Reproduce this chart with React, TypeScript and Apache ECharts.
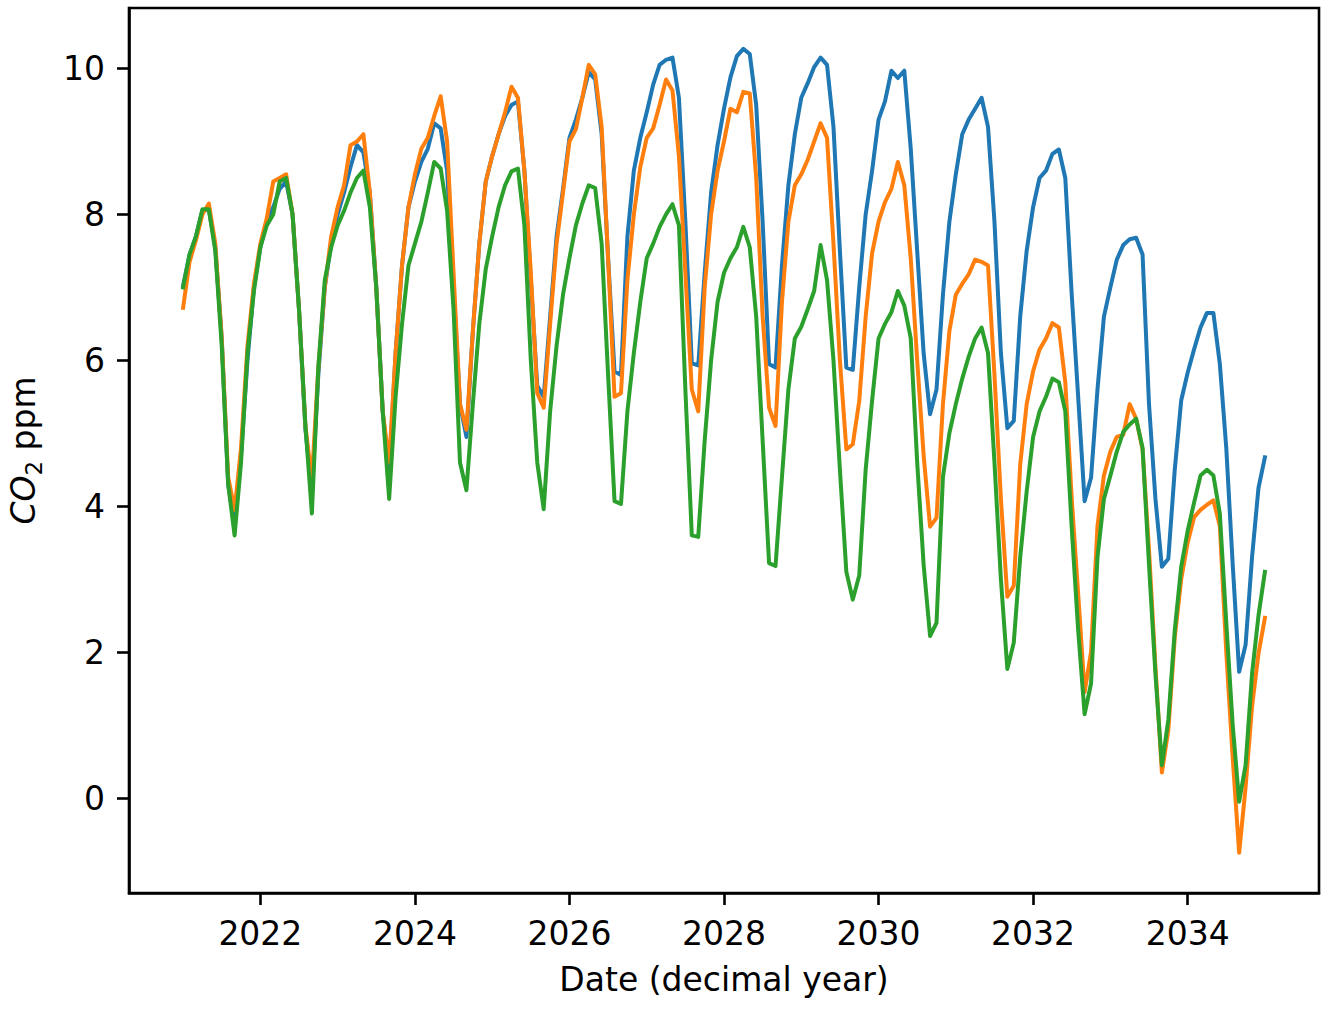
import React, { useEffect, useRef } from "react";
import * as echarts from "echarts";

// Monthly samples, Jan 2021 .. Jan 2035 (169 points)
const START_YEAR = 2021;

const seriesBlue: number[] = [
  7.02, 7.45, 7.7, 8.05, 8.07, 7.55, 6.3, 4.3, 3.75, 4.7, 6.0, 7.0, // 2021
  7.55, 7.9, 8.1, 8.35, 8.45, 8.0, 6.7, 5.05, 4.2, 5.8, 7.0, 7.6, // 2022
  8.0, 8.3, 8.65, 8.95, 8.85, 8.3, 7.0, 5.3, 4.45, 6.1, 7.3, 8.1, // 2023
  8.45, 8.72, 8.9, 9.25, 9.18, 8.6, 7.0, 5.4, 4.95, 6.4, 7.6, 8.45, // 2024
  8.8, 9.1, 9.35, 9.5, 9.55, 8.6, 7.1, 5.65, 5.5, 6.6, 7.7, 8.35, // 2025
  9.05, 9.3, 9.6, 9.95, 9.85, 9.1, 7.4, 5.85, 5.8, 7.7, 8.6, 9.05, // 2026
  9.4, 9.78, 10.05, 10.12, 10.15, 9.6, 7.9, 5.96, 5.93, 7.2, 8.3, 8.95, // 2027
  9.45, 9.88, 10.17, 10.27, 10.2, 9.5, 7.9, 5.95, 5.9, 7.3, 8.4, 9.1, // 2028
  9.6, 9.8, 10.02, 10.15, 10.05, 9.2, 7.5, 5.9, 5.87, 7.0, 8.0, 8.6, // 2029
  9.3, 9.55, 9.97, 9.87, 9.97, 8.9, 7.5, 6.1, 5.26, 5.6, 6.9, 7.9, // 2030
  8.55, 9.1, 9.3, 9.45, 9.6, 9.2, 7.9, 6.1, 5.07, 5.17, 6.6, 7.5, // 2031
  8.1, 8.5, 8.6, 8.83, 8.89, 8.5, 6.9, 5.5, 4.07, 4.39, 5.6, 6.6, // 2032
  7.0, 7.38, 7.58, 7.66, 7.68, 7.45, 5.4, 4.1, 3.17, 3.28, 4.5, 5.45, // 2033
  5.83, 6.15, 6.45, 6.65, 6.65, 5.95, 4.8, 3.2, 1.73, 2.1, 3.3, 4.25, // 2034
  4.67, // 2035
];

const seriesOrange: number[] = [
  6.72, 7.35, 7.65, 8.0, 8.15, 7.6, 6.3, 4.4, 3.95, 4.8, 6.2, 7.05, // 2021
  7.6, 7.95, 8.45, 8.5, 8.55, 8.0, 6.7, 5.1, 4.35, 5.9, 7.0, 7.7, // 2022
  8.1, 8.4, 8.95, 9.0, 9.1, 8.3, 7.0, 5.3, 4.6, 6.1, 7.3, 8.1, // 2023
  8.55, 8.9, 9.05, 9.35, 9.62, 9.0, 7.2, 5.4, 5.05, 6.4, 7.6, 8.45, // 2024
  8.8, 9.1, 9.4, 9.75, 9.6, 8.6, 7.2, 5.55, 5.35, 6.5, 7.6, 8.3, // 2025
  9.0, 9.17, 9.6, 10.05, 9.92, 9.2, 7.4, 5.5, 5.55, 7.1, 8.0, 8.65, // 2026
  9.05, 9.18, 9.5, 9.85, 9.7, 8.8, 7.2, 5.6, 5.3, 7.0, 8.0, 8.6, // 2027
  9.0, 9.45, 9.4, 9.68, 9.66, 8.5, 6.6, 5.35, 5.1, 6.8, 7.9, 8.4, // 2028
  8.55, 8.75, 9.0, 9.25, 9.05, 7.6, 6.0, 4.78, 4.85, 5.44, 6.6, 7.47, // 2029
  7.9, 8.17, 8.35, 8.72, 8.4, 7.4, 6.0, 4.7, 3.72, 3.84, 5.4, 6.4, // 2030
  6.9, 7.05, 7.18, 7.38, 7.35, 7.3, 5.8, 4.1, 2.76, 2.91, 4.57, 5.4, // 2031
  5.85, 6.15, 6.3, 6.51, 6.45, 5.7, 4.1, 2.8, 1.45, 2.0, 3.73, 4.42, // 2032
  4.75, 4.95, 4.98, 5.4, 5.2, 4.78, 3.4, 1.8, 0.35, 0.93, 2.2, 3.0, // 2033
  3.5, 3.85, 3.95, 4.02, 4.08, 3.73, 2.0, 0.55, -0.75, 0.15, 1.25, 1.98, // 2034
  2.47, // 2035
];

const seriesGreen: number[] = [
  7.0, 7.45, 7.7, 8.07, 8.07, 7.5, 6.2, 4.3, 3.6, 4.6, 6.1, 6.95, // 2021
  7.55, 7.85, 8.0, 8.45, 8.5, 8.0, 6.7, 5.1, 3.9, 5.9, 7.1, 7.55, // 2022
  7.85, 8.05, 8.3, 8.5, 8.6, 8.1, 7.0, 5.3, 4.1, 5.5, 6.5, 7.3, // 2023
  7.6, 7.9, 8.3, 8.72, 8.63, 8.05, 6.7, 4.6, 4.22, 5.4, 6.5, 7.25, // 2024
  7.7, 8.1, 8.4, 8.59, 8.63, 7.85, 6.0, 4.6, 3.96, 5.3, 6.2, 6.9, // 2025
  7.4, 7.85, 8.15, 8.4, 8.36, 7.6, 5.8, 4.07, 4.03, 5.3, 6.1, 6.8, // 2026
  7.4, 7.6, 7.83, 8.0, 8.14, 7.85, 5.6, 3.6, 3.58, 4.9, 6.0, 6.8, // 2027
  7.2, 7.4, 7.55, 7.83, 7.55, 6.6, 4.9, 3.22, 3.18, 4.4, 5.6, 6.3, // 2028
  6.46, 6.7, 6.95, 7.58, 7.1, 6.0, 4.5, 3.1, 2.72, 3.05, 4.5, 5.45, // 2029
  6.3, 6.5, 6.66, 6.95, 6.75, 6.3, 4.6, 3.2, 2.22, 2.4, 4.4, 5.0, // 2030
  5.4, 5.75, 6.05, 6.3, 6.45, 6.1, 4.6, 3.0, 1.77, 2.13, 3.3, 4.2, // 2031
  4.95, 5.3, 5.5, 5.75, 5.7, 5.3, 3.7, 2.3, 1.15, 1.57, 3.3, 4.1, // 2032
  4.42, 4.75, 5.02, 5.12, 5.2, 4.8, 3.2, 1.7, 0.45, 1.07, 2.3, 3.17, // 2033
  3.66, 4.05, 4.42, 4.5, 4.42, 3.9, 2.4, 1.0, -0.05, 0.45, 1.7, 2.5, // 2034
  3.1, // 2035
];

const xTickValues = [2022, 2024, 2026, 2028, 2030, 2032, 2034];
const yTickValues = [0, 2, 4, 6, 8, 10];

const X_MIN = 2020.3;
const X_MAX = 2035.7;
const Y_MIN = -1.302;
const Y_MAX = 10.83;

const COLORS = ["#1f77b4", "#ff7f0e", "#2ca02c"];
const FONT = "DejaVu Sans";

function toPairs(values: number[]): [number, number][] {
  return values.map((v, i) => [START_YEAR + i / 12, v]);
}

export default function App() {
  const ref = useRef<HTMLDivElement | null>(null);

  useEffect(() => {
    if (!ref.current) return;
    const chart = echarts.init(ref.current, undefined, { renderer: "svg" });
    const axisCommon = {
      axisLine: { show: true, onZero: false, lineStyle: { color: "#000", width: 2.6 } },
      axisTick: { show: true, length: 12, inside: false, lineStyle: { color: "#000", width: 2.6 } },
      splitLine: { show: false },
    };
    chart.setOption({
      animation: false,
      backgroundColor: "#fff",
      grid: {
        left: 129,
        top: 8,
        right: 15,
        bottom: 123,
        outerBoundsMode: "none",
        containLabel: false,
        show: true,
        borderColor: "#000",
        borderWidth: 2.6,
        backgroundColor: "transparent",
      },
      xAxis: {
        type: "value",
        min: X_MIN,
        max: X_MAX,
        ...axisCommon,
        axisTick: { ...axisCommon.axisTick, customValues: xTickValues },
        axisLabel: {
          customValues: xTickValues,
          color: "#000",
          fontFamily: FONT,
          fontSize: 33,
          margin: 24,
          formatter: (v: number) => String(v),
        },
        name: "Date (decimal year)",
        nameLocation: "middle",
        nameGap: 70,
        nameTextStyle: { color: "#000", fontFamily: FONT, fontSize: 33 },
      },
      yAxis: {
        type: "value",
        min: Y_MIN,
        max: Y_MAX,
        ...axisCommon,
        axisTick: { ...axisCommon.axisTick, customValues: yTickValues },
        axisLabel: {
          customValues: yTickValues,
          color: "#000",
          fontFamily: FONT,
          fontSize: 33,
          margin: 24,
          formatter: (v: number) => String(v),
        },
        name: "{i|CO}{s|2}{n| ppm}",
        nameLocation: "middle",
        nameGap: 84,
        nameRotate: 90,
        nameTextStyle: {
          color: "#000",
          fontFamily: FONT,
          fontSize: 33,
          rich: {
            i: { fontFamily: FONT, fontSize: 33, fontStyle: "italic", color: "#000", lineHeight: 44, verticalAlign: "middle" },
            s: { fontFamily: FONT, fontSize: 23, color: "#000", lineHeight: 23, verticalAlign: "bottom" },
            n: { fontFamily: FONT, fontSize: 33, color: "#000", lineHeight: 44, verticalAlign: "middle" },
          },
        },
      },
      series: [seriesBlue, seriesOrange, seriesGreen].map((vals, i) => ({
        type: "line",
        data: toPairs(vals),
        showSymbol: false,
        symbol: "none",
        smooth: false,
        clip: true,
        lineStyle: { color: COLORS[i], width: 4, join: "round", cap: "square" },
        itemStyle: { color: COLORS[i] },
        z: 2 + i,
      })),
    });
    return () => chart.dispose();
  }, []);

  return (
    <div
      ref={ref}
      style={{ position: "fixed", left: 0, top: 0, width: 1334, height: 1016, background: "#fff" }}
    />
  );
}
